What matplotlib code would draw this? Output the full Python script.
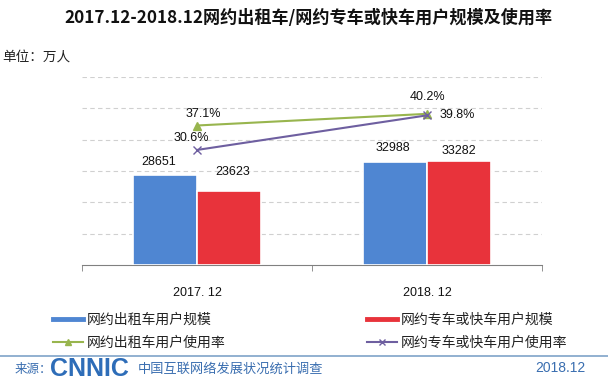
import matplotlib
matplotlib.use("Agg")
import matplotlib.pyplot as plt
from matplotlib.lines import Line2D
import numpy as np

plt.rcParams['font.family'] = ['Noto Sans CJK SC', 'DejaVu Sans']

categories = ["2017. 12", "2018. 12"]
taxi_users = [28651, 32988]
ride_users = [23623, 33282]
taxi_rate = [37.1, 40.2]
ride_rate = [30.6, 39.8]
series_names = ["网约出租车用户规模", "网约专车或快车用户规模",
                "网约出租车用户使用率", "网约专车或快车用户使用率"]
title = "2017.12-2018.12网约出租车/网约专车或快车用户规模及使用率"

BLUE = "#4F86D2"
RED = "#E8333B"
GREEN = "#98B54E"
PURPLE = "#6E5FA0"
FOOT = "#3A6EB0"

fig = plt.figure(figsize=(6.08, 3.82), dpi=100)
fig.patch.set_facecolor("white")

ax = fig.add_axes([82/608, 117/382, 460/608, 188/382])
ax.set_facecolor("none")
x = np.arange(len(categories))
w = 0.28
ax.bar(x - w/2, taxi_users, w, color=BLUE, edgecolor="white", linewidth=1.2, zorder=3)
ax.bar(x + w/2, ride_users, w, color=RED, edgecolor="white", linewidth=1.2, zorder=3)
ax.set_xlim(-0.5, 1.5)
ax.set_ylim(0, 60000)
ax.set_yticks(np.arange(10000, 60001, 10000))
ax.yaxis.grid(True, linestyle=(0, (4, 3)), color="#d0d0d0", linewidth=0.8)
ax.set_axisbelow(True)
ax.tick_params(axis='y', length=0, labelleft=False)
ax.set_xticks(x)
ax.set_xticklabels(categories, fontsize=9, family=['Liberation Sans', 'DejaVu Sans'],
                   color="#111111")
ax.tick_params(axis='x', length=0, pad=16)
ax.set_xticks([-0.5, 0.5, 1.5], minor=True)
ax.tick_params(axis='x', which='minor', length=4, color="#808080", direction='out')
for s in ['left', 'right', 'top']:
    ax.spines[s].set_visible(False)
ax.spines['bottom'].set_color("#808080")

lab_font = dict(fontsize=9, family=['Liberation Sans'], color="#111111")
offs_taxi = [(-4.7, 9.4), (-1.5, 9.8)]
offs_ride = [(2.5, 13.7), (0, 7)]
for xi, v, o in zip(x - w/2, taxi_users, offs_taxi):
    ax.annotate(f"{v}", (xi, v), xytext=o, textcoords='offset points',
                ha='center', va='center', **lab_font)
for xi, v, o in zip(x + w/2, ride_users, offs_ride):
    ax.annotate(f"{v}", (xi, v), xytext=o, textcoords='offset points',
                ha='center', va='center', **lab_font)

ax2 = ax.twinx()
ax2.set_ylim(0, 50)
ax2.axis('off')
ax2.plot(x, taxi_rate, color=GREEN, marker='^', markersize=6, linewidth=1.5, zorder=5)
ax2.plot(x, ride_rate, color=PURPLE, marker='x', markersize=6, linewidth=1.5,
         markeredgewidth=1.0, zorder=6)
offs1 = [(4.3, 8.3), (0, 12)]
offs2 = [(-4.3, 8.6), (22, 0)]
for xi, v, o in zip(x, taxi_rate, offs1):
    ax2.annotate(f"{v:.1f}%", (xi, v), xytext=o, textcoords='offset points',
                 ha='center', va='center', **lab_font)
for xi, v, o in zip(x, ride_rate, offs2):
    ax2.annotate(f"{v:.1f}%", (xi, v), xytext=o, textcoords='offset points',
                 ha='center', va='center', **lab_font)

# title and unit
fig.text(308/608, 1 - 18/382, title, ha='center', va='center', fontsize=12.3,
         fontweight='bold', color="#111111")
fig.text(2/608, 1 - 57/382, "单位：万人", ha='left', va='center', fontsize=9.8,
         color="#222222")

# legends
h_taxi = Line2D([], [], color=BLUE, linewidth=3.5)
h_ride = Line2D([], [], color=RED, linewidth=3.5)
h_trate = Line2D([], [], color=GREEN, linewidth=1.5, marker='^', markersize=5)
h_rrate = Line2D([], [], color=PURPLE, linewidth=1.5, marker='x', markersize=5)
leg_kw = dict(frameon=False, fontsize=10, handlelength=2.15, handletextpad=0.3,
              labelspacing=0.66, borderaxespad=0, borderpad=0, labelcolor="#222222")
fig.legend([h_taxi, h_trate], [series_names[0], series_names[2]],
           loc='upper left', bbox_to_anchor=(53/608, 1 - 313/382), **leg_kw)
fig.legend([h_ride, h_rrate], [series_names[1], series_names[3]],
           loc='upper left', bbox_to_anchor=(367/608, 1 - 313/382), **leg_kw)

# footer
fig.add_artist(Line2D([0, 1], [1 - 356/382, 1 - 356/382], color="#7FA3C8", linewidth=1.2))
fig.text(15/608, 1 - 369/382, "来源：", ha='left', va='center', fontsize=9, color=FOOT)
fig.text(50/608, 1 - 369/382, "CNNIC", ha='left', va='center', fontsize=18,
         family=['Liberation Sans'], fontweight='bold', color="#2E6DB8")
fig.text(138/608, 1 - 369/382, "中国互联网络发展状况统计调查", ha='left', va='center',
         fontsize=9.5, color=FOOT)
fig.text(586/608, 1 - 368/382, "2018.12", ha='right', va='center', fontsize=10,
         family=['Liberation Sans'], color=FOOT)

fig.savefig("out.png", dpi=100, facecolor="white")
